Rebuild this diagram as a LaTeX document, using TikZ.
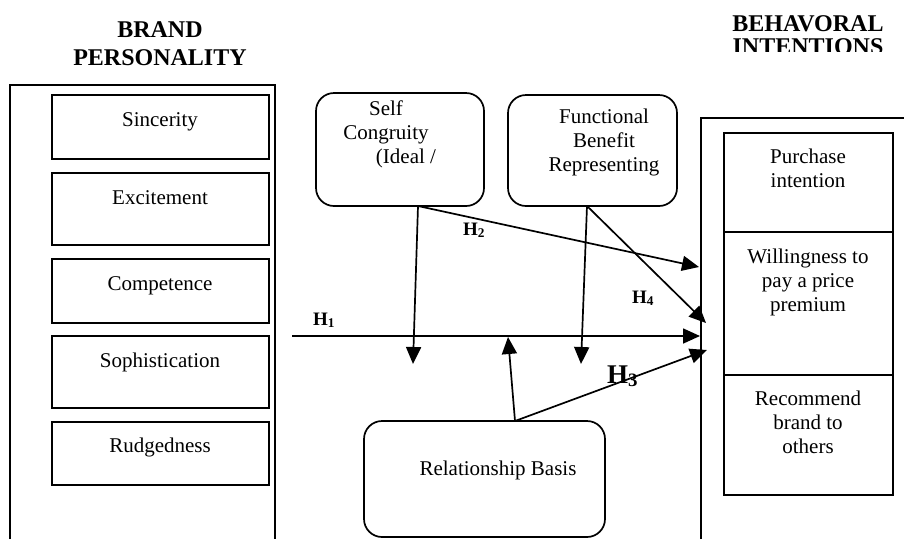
\documentclass[tikz,border=0pt]{standalone}
\usepackage{fontspec}
\setmainfont{Liberation Serif}
\usetikzlibrary{arrows.meta}
\begin{document}
\begin{tikzpicture}[x=1pt,y=-1pt,
  every node/.style={font=\fontsize{21}{24}\selectfont, inner sep=0pt, outer sep=0pt},
  frame/.style={line width=1.8pt},
  pbox/.style={draw, line width=1.7pt, anchor=north west},
  rbox/.style={draw, line width=1.7pt, rounded corners=18pt, anchor=north west},
  conn/.style={line width=1.7pt, -{Triangle[length=17pt,width=15pt]}},
  hlab/.style={font=\fontsize{19}{22}\selectfont\bfseries, anchor=base west},
  head/.style={font=\fontsize{24}{28}\selectfont\bfseries, anchor=base},
  txt/.style={anchor=base},
  mtxt/.style={anchor=north, align=center}]

\useasboundingbox (0,0) rectangle (904,539);

% headings
\node[head] (hbp1) at (160,37) {BRAND};
\node[head] (hbp2) at (160,65) {PERSONALITY};
\node[head] (hbi1) at (808,31) {BEHAVORAL};
\begin{scope}
  \clip (700,0) rectangle (904,51);
  \node[head] (hbi2) at (808,54) {INTENTIONS};
\end{scope}

% outer frames
\draw[frame] (10,539) -- (10,85) -- (275,85) -- (275,539);
\draw[frame] (701,539) -- (701,118) -- (904,118);

% brand personality boxes
\node[pbox, minimum width=217pt, minimum height=64pt] (sinc) at (52,95) {};
\node[pbox, minimum width=217pt, minimum height=72pt] (exci) at (52,173) {};
\node[pbox, minimum width=217pt, minimum height=64pt] (comp) at (52,259) {};
\node[pbox, minimum width=217pt, minimum height=72pt] (soph) at (52,336) {};
\node[pbox, minimum width=217pt, minimum height=63pt] (rudg) at (52,422) {};
\node[txt] (tsinc) at (160,126) {Sincerity};
\node[txt] (texci) at (160,204) {Excitement};
\node[txt] (tcomp) at (160,290) {Competence};
\node[txt] (tsoph) at (160,367) {Sophistication};
\node[txt] (trudg) at (160,452) {Rudgedness};

% behavioral intention boxes
\node[pbox, minimum width=169pt, minimum height=99pt] (purc) at (724,133) {};
\node[pbox, minimum width=169pt, minimum height=143pt] (will) at (724,232) {};
\node[pbox, minimum width=169pt, minimum height=120pt] (reco) at (724,375) {};
\node[mtxt] (tpurc) at (808,149) {Purchase\\intention};
\node[mtxt] (twill) at (808,249) {Willingness to\\pay a price\\premium};
\node[mtxt] (treco) at (808,391) {Recommend\\brand to\\others};

% moderator boxes
\node[rbox, minimum width=168pt, minimum height=113pt] (self) at (316,93) {};
\node[rbox, minimum width=169pt, minimum height=111pt] (func) at (508,95) {};
\node[rbox, minimum width=241pt, minimum height=116pt] (rela) at (364,421) {};
\node[mtxt] (tself) at (386,101) {Self\\Congruity\\\hspace*{40pt}(Ideal /};
\node[mtxt] (tfunc) at (604,109) {Functional\\Benefit\\Representing};
\node[txt] (trela) at (498,475) {Relationship Basis};

% connector end points
\coordinate (h1s) at (292,336);
\coordinate (h1e) at (700,336);
\coordinate (sdown) at (413,364);
\coordinate (h2e) at (699,267);
\coordinate (fdown) at (581,364);
\coordinate (h4e) at (706,323);
\coordinate (rup) at (508,337);
\coordinate (h3e) at (707,350);

% connectors
\draw[conn] (h1s) -- (h1e);
\draw[conn] ([xshift=18pt]self.south) -- (sdown);
\draw[conn] ([xshift=18pt]self.south) -- (h2e);
\draw[conn] ([xshift=-5.5pt]func.south) -- (fdown);
\draw[conn] ([xshift=-5.5pt]func.south) -- (h4e);
\draw[conn] ([xshift=30.5pt]rela.north) -- (rup);
\draw[conn] ([xshift=30.5pt]rela.north) -- (h3e);

% hypothesis labels
\node[hlab] (lh1) at (313,325) {H\textsubscript{1}};
\node[hlab] (lh2) at (463,235) {H\textsubscript{2}};
\node[hlab] (lh4) at (632,303) {H\textsubscript{4}};
\node[hlab, font=\fontsize{27}{30}\selectfont\bfseries] (lh3) at (607,383) {H\textsubscript{3}};
\end{tikzpicture}
\end{document}
